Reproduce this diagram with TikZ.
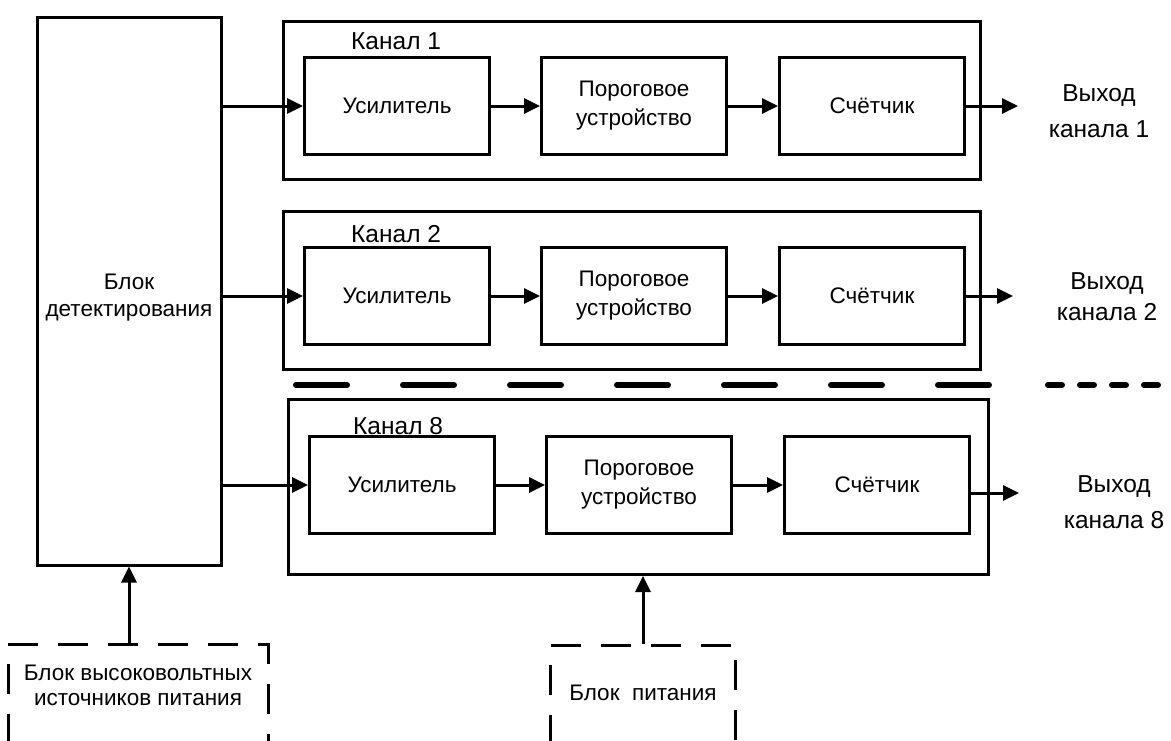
\documentclass[tikz,border=0pt]{standalone}
\usepackage{fontspec}
\setmainfont{Liberation Sans}
\usetikzlibrary{positioning}
\usetikzlibrary{arrows.meta}

\tikzset{
  blok/.style={draw, line width=3pt, minimum width=185pt, minimum height=97pt,
    align=center, inner sep=0pt, font=\fontsize{22.5}{29}\selectfont},
  kanal/.style={draw, line width=3pt, inner sep=0pt},
  podpis/.style={inner sep=0pt, align=center, font=\fontsize{24.5}{36}\selectfont},
  pitanie/.style={draw, line width=3pt, dash pattern=on 30pt off 20pt,
    align=center, inner sep=0pt, font=\fontsize{22.5}{26}\selectfont},
  strelka/.style={line width=3pt, -{Triangle[length=16pt,width=15pt]}},
  razdel/.style={line width=6pt, line cap=round}
}

\begin{document}
\begin{tikzpicture}[x=1pt, y=-1pt]
\useasboundingbox (0,0) rectangle (1171,740);

% block of detection
\node[kanal, minimum width=184pt, minimum height=548pt,
  font=\fontsize{22.5}{27}\selectfont] (det) at (129,291)
  {\raisebox{-12pt}[0pt][0pt]{\begin{tabular}{@{}c@{}}Блок\\детектирования\end{tabular}}};

% channel 1
\node[kanal, minimum width=697pt, minimum height=158pt] (k1) at (632,100) {};
\node[podpis, anchor=west] (n1) at (351,41) {Канал 1};
\node[blok] (u1) at (397,106) {Усилитель};
\node[blok] (p1) at (634,106) {Пороговое\\устройство};
\node[blok] (s1) at (872,106) {Счётчик};
\coordinate (o1) at (1018,106);
\node[podpis] (v1) at (1099,111) {Выход\\канала 1};

% channel 2
\node[kanal, minimum width=697pt, minimum height=158pt] (k2) at (632,290) {};
\node[podpis, anchor=west] (n2) at (351,234) {Канал 2};
\node[blok] (u2) at (397,296) {Усилитель};
\node[blok] (p2) at (634,296) {Пороговое\\устройство};
\node[blok] (s2) at (872,296) {Счётчик};
\coordinate (o2) at (1013,296);
\node[podpis, font=\fontsize{24.5}{31}\selectfont] (v2) at (1107,297) {Выход\\канала 2};

% channel 8
\node[kanal, minimum width=700pt, minimum height=175pt] (k8) at (638,487) {};
\node[podpis, anchor=west] (n8) at (353,426) {Канал 8};
\node[blok] (u8) at (402,485) {Усилитель};
\node[blok] (p8) at (639,485) {Пороговое\\устройство};
\node[blok] (s8) at (877,485) {Счётчик};
\coordinate (o8) at (1019,493);
\node[podpis] (v8) at (1114,502) {Выход\\канала 8};

% separator
\coordinate (r0) at (296,385);
\coordinate (r1) at (998,385);
\coordinate (r2) at (1048,385);
\coordinate (r3) at (1175,385);
\draw[razdel, dash pattern=on 51pt off 56pt] (r0) -- (r1);
\draw[razdel, dash pattern=on 14pt off 18pt] (r2) -- (r3);

% power supplies
\node[pitanie, minimum width=260pt, minimum height=110pt] (hv) at (138,699)
  {\raisebox{6pt}[0pt][0pt]{\begin{tabular}{@{}c@{}}Блок высоковольтных\\[-1pt]источников питания\end{tabular}}};
\node[pitanie, minimum width=185pt, minimum height=110pt] (pit) at (643,700)
  {\raisebox{0pt}[0pt][0pt]{Блок\ \ питания}};

% arrows
\draw[strelka] (det.east |- u1.west) -- (u1.west);
\draw[strelka] (u1) -- (p1);
\draw[strelka] (p1) -- (s1);
\draw[strelka] (s1.east) -- (o1);
\draw[strelka] (det.east |- u2.west) -- (u2.west);
\draw[strelka] (u2) -- (p2);
\draw[strelka] (p2) -- (s2);
\draw[strelka] (s2.east) -- (o2);
\draw[strelka] (det.east |- u8.west) -- (u8.west);
\draw[strelka] (u8) -- (p8);
\draw[strelka] (p8) -- (s8);
\draw[strelka] (s8.east |- o8) -- (o8);
\draw[strelka] (hv.north -| det.south) -- (det.south);
\draw[strelka] (pit.north) -- (pit.north |- k8.south);
\end{tikzpicture}
\end{document}
